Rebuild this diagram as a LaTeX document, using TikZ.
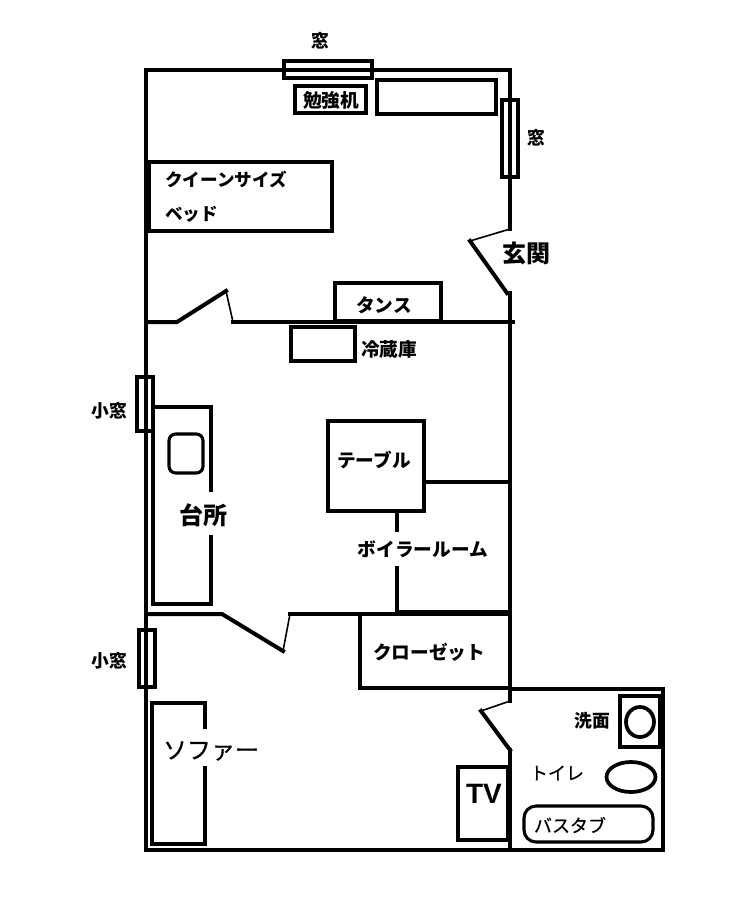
\documentclass[tikz,border=0pt]{standalone}
\usepackage{fontspec}
\setmainfont{Noto Sans CJK JP}
\newfontfamily\latinfont{Liberation Sans}
\newfontfamily\midfont[FakeBold=0.5]{Noto Sans CJK JP}

\tikzset{
  wall/.style={line width=3pt, line cap=rect, line join=miter},
  swing/.style={line width=1.2pt},
  furn/.style={line width=2.8pt},
  lightline/.style={line width=2.3pt},
  word/.style={anchor=center, inner sep=0pt, font=\bfseries\fontsize{14}{14}\selectfont},
  smallword/.style={word, font=\bfseries\fontsize{13.3}{13.3}\selectfont},
  bigword/.style={word, font=\bfseries\fontsize{18}{18}\selectfont},
  lightword/.style={word, font=\midfont\fontsize{13.5}{13.5}\selectfont},
}

\begin{document}
\begin{tikzpicture}[x=.75pt, y=-.75pt]
      \useasboundingbox (0,0) rectangle (756,899);
      % walls
      \draw[wall] (510,229) -- (510,70) -- (146,70) -- (146,850) -- (663,850) -- (663,689) -- (510,689);
      \draw[wall] (510,293) -- (510,701);
      \draw[wall] (510,750) -- (510,850);
      \draw[wall] (146,322) -- (177,322) -- (226,291);
      \draw[wall] (233,322) -- (513,322);
      \draw[wall] (146,614) -- (222,614) -- (283,651);
      \draw[wall] (290,614) -- (510,614);
      \draw[wall] (507,293) -- (470,241);
      \draw[wall] (510,750) -- (481,711);
      % door leaves
      \draw[swing] (226,291) -- (233,322);
      \draw[swing] (283,651) -- (290,614);
      \draw[swing] (510,229) -- (470,241);
      \draw[swing] (510,701) -- (481,711);
      % windows
      \draw[lightline] (284,61) rectangle (372,78);
      \draw[lightline] (502,100) rectangle (518,177);
      \draw[lightline] (137,377) rectangle (153,431);
      \draw[lightline] (139,630) rectangle (155,687);
      % bedroom
      \draw[furn] (295,86) rectangle (366,113);
      \draw[furn] (377,80) rectangle (496,114);
      \draw[furn] (148,162) rectangle (332,231);
      \fill (146,162) rectangle (151,231);
      \draw[furn] (335,321) rectangle (441,283);
      \draw[furn] (291,327) rectangle (355,361);
      % kitchen
      \draw[lightline] (153,407) -- (211,407) -- (211,492);
      \draw[lightline] (211,535) -- (211,604) -- (153,604) -- (153,407);
      \draw[lightline, rounded corners=5pt] (169,434) rectangle (203,473);
      % table and boiler room
      \draw[furn] (328,421) rectangle (424,511);
      \draw[lightline] (424,482) -- (510,482);
      \draw[furn] (397,511) -- (397,532);
      \draw[furn] (397,566) -- (397,612) -- (510,612);
      % closet
      \draw[furn] (360,614) -- (360,688) -- (510,688);
      % living room
      \draw[lightline] (205,729) -- (205,703) -- (152,703) -- (152,844) -- (205,844) -- (205,766);
      \draw[furn] (458,767) rectangle (508,840);
      % bathroom
      \draw[lightline] (620,696) rectangle (660,747);
      \draw[furn] (640,722) ellipse (14 and 15);
      \draw[furn] (631,777) ellipse (24.5 and 15);
      \draw[lightline, rounded corners=9pt] (524,806) rectangle (653,842);
      % labels
      \node[smallword] (topwin) at (320,41) {窓};
      \node[smallword] (rightwin) at (536,138) {窓};
      \node[word] (desk) at (331,100) {勉強机};
      \node[smallword, font=\bfseries\fontsize{13.2}{13.2}\selectfont, anchor=west] (bedone) at (165,180) {クイーンサイズ};
      \node[smallword, font=\bfseries\fontsize{13.2}{13.2}\selectfont, anchor=west] (bedtwo) at (165,214) {ベッド};
      \node[bigword] (entry) at (526,253) {玄関};
      \node[word] (chest) at (384,305) {タンス};
      \node[word] (fridge) at (389,349) {冷蔵庫};
      \node[smallword] (winone) at (109,411) {小窓};
      \node[smallword] (wintwo) at (109,661) {小窓};
      \node[bigword] (kitchen) at (203,515) {台所};
      \node[word] (table) at (374,460) {テーブル};
      \node[word] (boiler) at (423,549) {ボイラールーム};
      \node[word] (closet) at (429,652) {クローゼット};
      \node[lightword, font=\midfont\fontsize{18}{18}\selectfont] (sofa) at (211,751) {ソファー};
      \node[word, font=\bfseries\latinfont\fontsize{21}{21}\selectfont] (tv) at (484,794) {TV};
      \node[smallword] (basin) at (592,721) {洗面};
      \node[lightword] (toilet) at (557,773) {トイレ};
      \node[lightword] (bath) at (570,825) {バスタブ};
    \end{tikzpicture}
\end{document}
